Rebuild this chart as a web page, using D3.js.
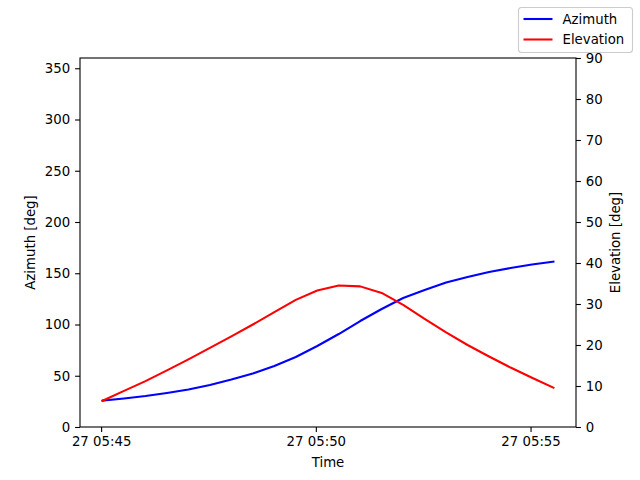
<!DOCTYPE html>
<html>
<head>
<meta charset="utf-8">
<script src="https://cdn.jsdelivr.net/npm/d3@7"></script>
<style>
    body { margin: 0; background: #fff; }
    svg text { font-family: "DejaVu Sans", sans-serif; fill: #000; }
</style>
</head>
<body>
<svg id="chart"></svg>
<script>
// samples every 30 s starting 27 05:45:02
const startTime = new Date(2024, 0, 27, 5, 45, 2);
const stepSeconds = 30;
const azimuth = [25.7, 27.8, 30.2, 33.2, 36.6, 41.0, 46.3, 52.2, 59.5, 68.3, 79.0,
    90.7, 103.4, 115.1, 125.9, 133.7, 141.0, 146.3, 151.2, 155.1, 158.5, 161.3];
const elevation = [6.4, 8.8, 11.2, 13.8, 16.5, 19.3, 22.1, 25.0, 28.0, 31.0, 33.3,
    34.5, 34.3, 32.7, 29.8, 26.4, 23.1, 20.0, 17.2, 14.5, 12.0, 9.6];
const azTicks = [0, 50, 100, 150, 200, 250, 300, 350];
const elTicks = [0, 10, 20, 30, 40, 50, 60, 70, 80, 90];
const seriesNames = ["Azimuth", "Elevation"];
const seriesColors = ["blue", "red"];

const width = 640, height = 480;
const margin = { left: 80, right: 64, top: 58, bottom: 53 };
const fontSize = 13.3;

const times = azimuth.map((_, i) => new Date(startTime.getTime() + i * stepSeconds * 1000));

const svg = d3.select("#chart")
    .attr("width", width)
    .attr("height", height);

// matplotlib style 5% margin on x
const [t0, t1] = d3.extent(times);
const pad = (t1 - t0) * 0.05;
const x = d3.scaleTime()
    .domain([new Date(t0.getTime() - pad), new Date(t1.getTime() + pad)])
    .range([margin.left, width - margin.right]);

const yAz = d3.scaleLinear().domain([0, 360]).range([height - margin.bottom, margin.top]);
const yEl = d3.scaleLinear().domain([0, 90]).range([height - margin.bottom, margin.top]);

const tickLen = 4.9;
const tickPad = 4.9;

function styleAxis(g) {
    g.select(".domain").remove();
    g.selectAll(".tick line").attr("stroke", "#000").attr("stroke-width", 1.1);
    g.selectAll(".tick text")
        .style("font-size", fontSize + "px")
        .attr("fill", "#000");
}

svg.append("g")
    .attr("transform", `translate(0, ${height - margin.bottom})`)
    .call(d3.axisBottom(x)
        .ticks(d3.timeMinute.every(5))
        .tickFormat(d3.timeFormat("%d %H:%M"))
        .tickSize(tickLen).tickPadding(tickPad))
    .call(styleAxis);

svg.append("g")
    .attr("transform", `translate(${margin.left}, 0)`)
    .call(d3.axisLeft(yAz).tickValues(azTicks).tickSize(tickLen).tickPadding(tickPad))
    .call(styleAxis);

svg.append("g")
    .attr("transform", `translate(${width - margin.right}, 0)`)
    .call(d3.axisRight(yEl).tickValues(elTicks).tickSize(tickLen).tickPadding(tickPad))
    .call(styleAxis);

// lines
const azLine = d3.line()
    .x((d, i) => x(times[i]))
    .y(d => yAz(d));
const elLine = d3.line()
    .x((d, i) => x(times[i]))
    .y(d => yEl(d));

svg.append("path")
    .datum(azimuth)
    .attr("d", azLine)
    .attr("fill", "none")
    .attr("stroke", seriesColors[0])
    .attr("stroke-width", 2.08)
    .attr("stroke-linejoin", "round")
    .attr("stroke-linecap", "square");

svg.append("path")
    .datum(elevation)
    .attr("d", elLine)
    .attr("fill", "none")
    .attr("stroke", seriesColors[1])
    .attr("stroke-width", 2.08)
    .attr("stroke-linejoin", "round")
    .attr("stroke-linecap", "square");

// frame
svg.append("rect")
    .attr("x", margin.left)
    .attr("y", margin.top)
    .attr("width", width - margin.left - margin.right)
    .attr("height", height - margin.top - margin.bottom)
    .attr("fill", "none")
    .attr("stroke", "#000")
    .attr("stroke-width", 1.1);

// axis labels
svg.append("text")
    .attr("x", (margin.left + width - margin.right) / 2)
    .attr("y", 467)
    .attr("text-anchor", "middle")
    .style("font-size", fontSize + "px")
    .text("Time");

svg.append("text")
    .attr("transform", `translate(35, ${(margin.top + height - margin.bottom) / 2}) rotate(-90)`)
    .attr("text-anchor", "middle")
    .style("font-size", fontSize + "px")
    .text("Azimuth [deg]");

svg.append("text")
    .attr("transform", `translate(620, ${(margin.top + height - margin.bottom) / 2}) rotate(-90)`)
    .attr("text-anchor", "middle")
    .style("font-size", fontSize + "px")
    .text("Elevation [deg]");

// legend
const legend = svg.append("g").attr("transform", "translate(518.5, 7.5)");
legend.append("rect")
    .attr("width", 114)
    .attr("height", 45)
    .attr("rx", 3)
    .attr("fill", "#fff")
    .attr("fill-opacity", 0.8)
    .attr("stroke", "#cccccc")
    .attr("stroke-width", 1.1);

const items = legend.selectAll(".item")
    .data(seriesNames)
    .enter().append("g")
    .attr("class", "item")
    .attr("transform", (d, i) => `translate(0, ${11.5 + i * 20.5})`);

items.append("line")
    .attr("x1", 5).attr("x2", 34)
    .attr("stroke", (d, i) => seriesColors[i])
    .attr("stroke-width", 2.08);

items.append("text")
    .attr("x", 44)
    .attr("dy", "0.35em")
    .style("font-size", fontSize + "px")
    .text(d => d);
</script>
</body>
</html>
